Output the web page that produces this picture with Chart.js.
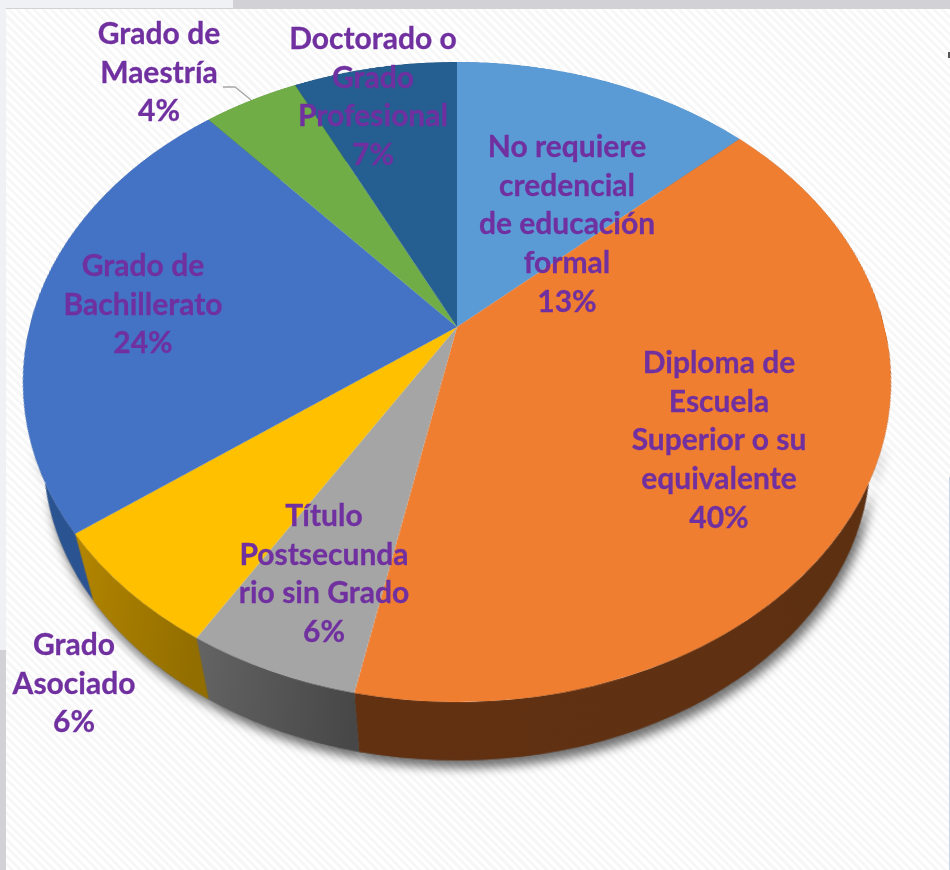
<!DOCTYPE html>
<html lang="es">
<head>
<meta charset="utf-8">
<script src="https://cdn.jsdelivr.net/npm/chart.js@4"></script>
<style>
    html, body { margin: 0; height: 100%; background: #fff; }
    #stage { position: relative; width: 950px; height: 870px; overflow: hidden; background: #d2d2d6; }
    #strip { position: absolute; left: 0; top: 0; width: 233px; height: 8px; background: #f0f1f4; }
    #strip-left { position: absolute; left: 0; top: 0; width: 6px; height: 650px; background: #f0f1f4; }
    #plot {
        position: absolute; left: 6px; top: 9px; width: 944px; height: 861px;
        background: repeating-linear-gradient(45deg, #fff 0 3px, #f7f7f7 3px 6px);
    }
    #pie { position: absolute; left: 27px; top: -173px; transform-origin: 430px 500px; }
    #leader { position: absolute; left: 0; top: 0; }
    #dot { position: absolute; left: 948px; top: 52px; width: 2px; height: 6px; background: #555; }
    #edge { position: absolute; left: 949px; top: 477px; width: 1px; height: 393px; background: #c5d5ea; }
    .lbl {
        position: absolute; transform: translateX(-50%); text-align: center; white-space: nowrap;
        font: bold 30px/38.7px Lato, sans-serif; color: #7030a0; -webkit-text-stroke: 0.3px #7030a0;
    }
</style>
</head>
<body>
<div id="stage">
    <div id="strip"></div>
    <div id="strip-left"></div>
    <div id="plot"></div>
    <div id="dot"></div>
    <div id="edge"></div>
    <canvas id="pie" width="860" height="1000"></canvas>
    <svg id="leader" width="950" height="870"><polyline points="223,87 235,87 251,100" fill="none" stroke="#a6a6a6" stroke-width="1.3"/></svg>
</div>
<script>
const categories = [
    ['No requiere', 'credencial', 'de educación', 'formal'],
    ['Diploma de', 'Escuela', 'Superior o su', 'equivalente'],
    ['Título', 'Postsecunda', 'rio sin Grado'],
    ['Grado', 'Asociado'],
    ['Grado de', 'Bachillerato'],
    ['Grado de', 'Maestría'],
    ['Doctorado o', 'Grado', 'Profesional']
];
const values = [13.2, 40, 5.5, 6.1, 23.8, 4.2, 7.2];
const colors = ['#5b9bd5', '#f07e31', '#a5a5a5', '#ffc000', '#4472c4', '#70ad47', '#255e91'];
const wallColors = [
    ['#3a6f9f', '#3a6f9f'],
    ['#623112', '#5e3012'],
    ['#646464', '#474747'],
    ['#b48600', '#926e00'],
    ['#2a5391', '#2f5597'],
    ['#436a2a', '#436a2a'],
    ['#163858', '#163858']
];

// label centres on the page, x and y of the first line
const labelPos = [[567, 126], [719, 342], [324, 495], [74, 624], [143, 245], [159, 13], [373, 18]];

// tilt: the circle is mapped to the perspective ellipse by a css homography
const radius = 430;
const scaleX = 427.5 / radius;
const scaleY = 310.6 / radius;
const persp = -0.172 / radius;
// lower rim of the pie, as a shrunk and shifted copy of the top rim on screen
const wallShrink = 0.953;
const wallDrop = 76;

const canvas = document.getElementById('pie');
canvas.style.transform = `matrix3d(${scaleX},0,0,0, 0,${scaleY},0,${persp}, 0,0,1,0, 0,0,0,1)`;

// canvas offset of a rim point -> canvas offset of the same point on the lower rim
function lowerRim(px, py) {
    const w = 1 + persp * py;
    const sx = wallShrink * scaleX * px / w;
    const sy = wallDrop + wallShrink * scaleY * py / w;
    const qy = sy / (scaleY - persp * sy);
    return [sx * (1 + persp * qy) / scaleX, qy];
}

function traceWall(ctx, p) {
    ctx.beginPath();
    ctx.arc(p.x, p.y, p.outerRadius, p.startAngle, p.endAngle);
    const steps = 60;
    for (let s = steps; s >= 0; s--) {
        const t = p.startAngle + (p.endAngle - p.startAngle) * s / steps;
        const q = lowerRim(p.outerRadius * Math.cos(t), p.outerRadius * Math.sin(t));
        ctx.lineTo(p.x + q[0], p.y + q[1]);
    }
    ctx.closePath();
}

const wallPlugin = {
    id: 'wall',
    beforeDatasetsDraw(chart) {
        const ctx = chart.ctx;
        const arcs = chart.getDatasetMeta(0).data.map(a => a.getProps(['x', 'y', 'startAngle', 'endAngle', 'outerRadius']));

        // shadow goes first so it never darkens a neighbouring wall
        ctx.save();
        ctx.shadowColor = 'rgba(0,0,0,.55)';
        ctx.shadowBlur = 9;
        ctx.shadowOffsetX = 3;
        ctx.shadowOffsetY = 7;
        ctx.fillStyle = '#555';
        arcs.forEach(p => { traceWall(ctx, p); ctx.fill(); });
        ctx.restore();

        // fade the shadow out towards the back rim, canvas is still empty here
        const fade = ctx.createLinearGradient(0, arcs[0].y + 150, 0, arcs[0].y + 260);
        fade.addColorStop(0, 'rgba(0,0,0,0)');
        fade.addColorStop(1, 'rgba(0,0,0,1)');
        ctx.save();
        ctx.globalCompositeOperation = 'destination-in';
        ctx.fillStyle = fade;
        ctx.fillRect(0, 0, chart.width, chart.height);
        ctx.restore();

        arcs.forEach((p, i) => {
            const x1 = p.x + p.outerRadius * Math.cos(p.startAngle);
            const x2 = p.x + p.outerRadius * Math.cos(p.endAngle);
            const grad = ctx.createLinearGradient(Math.min(x1, x2), 0, Math.max(x1, x2) + 1, 0);
            grad.addColorStop(0, wallColors[i][0]);
            grad.addColorStop(1, wallColors[i][1]);
            ctx.fillStyle = grad;
            traceWall(ctx, p);
            ctx.fill();
        });
    }
};

new Chart(canvas, {
    type: 'pie',
    data: {
        labels: categories.map(c => c.join(' ')),
        datasets: [{ data: values, backgroundColor: colors, borderWidth: 0 }]
    },
    options: {
        responsive: false,
        animation: false,
        layout: { padding: 0 },
        plugins: { legend: { display: false }, tooltip: { enabled: false } }
    },
    plugins: [wallPlugin]
});

const stage = document.getElementById('stage');
categories.forEach((lines, i) => {
    const el = document.createElement('div');
    el.className = 'lbl';
    el.style.left = labelPos[i][0] + 'px';
    el.style.top = labelPos[i][1] + 'px';
    el.innerHTML = lines.concat(Math.round(values[i]) + '%').join('<br>');
    stage.appendChild(el);
});
</script>
</body>
</html>
